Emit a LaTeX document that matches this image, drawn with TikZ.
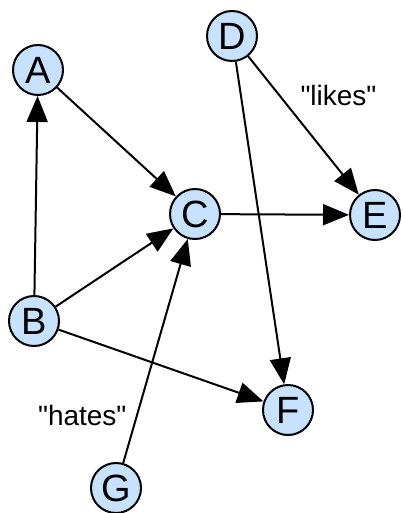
\documentclass[tikz,border=0pt]{standalone}
\usepackage{fontspec}
\setmainfont{Liberation Sans}[Ligatures=TeXOff]
\usetikzlibrary{arrows.meta}
\definecolor{nodeblue}{RGB}{198,226,255}
\tikzset{
  every node/.style={text=black, font=\fontsize{38}{42}\selectfont},
  vertex/.style={circle, draw=black, fill=nodeblue, line width=2pt, minimum size=50pt, inner sep=0pt},
  edgelabel/.style={draw=none, fill=none, font=\fontsize{28}{32}\selectfont},
  >={Triangle[length=26pt, width=21pt]}
}

\begin{document}
\begin{tikzpicture}[x=1pt, y=-1pt, line width=2pt]
  \useasboundingbox (0,0) rectangle (403,513);
  % Nodes
  \node (A) [vertex] at (38,70)   {A};
  \node (B) [vertex] at (34,321)  {B};
  \node (C) [vertex] at (195,214) {C};
  \node (D) [vertex] at (232,36)  {D};
  \node (E) [vertex] at (375,215) {E};
  \node (F) [vertex] at (288,410) {F};
  \node (G) [vertex] at (116,488) {G};

  \draw[->] (B) -- (A);
  \draw[->] (A) -- (C);
  \draw[->] (B) -- (C);
  \draw[->] (B) -- (F);
  \draw[->] (C) -- (E);
  \draw[->] (D) -- (F);
  \draw[->] (D) -- node[edgelabel, pos=0.28, right, xshift=17pt] {"likes"} (E);
  \draw[->] (G) -- node[edgelabel, pos=0.21, left, xshift=-6pt] {"hates"} (C);
\end{tikzpicture}
\end{document}
